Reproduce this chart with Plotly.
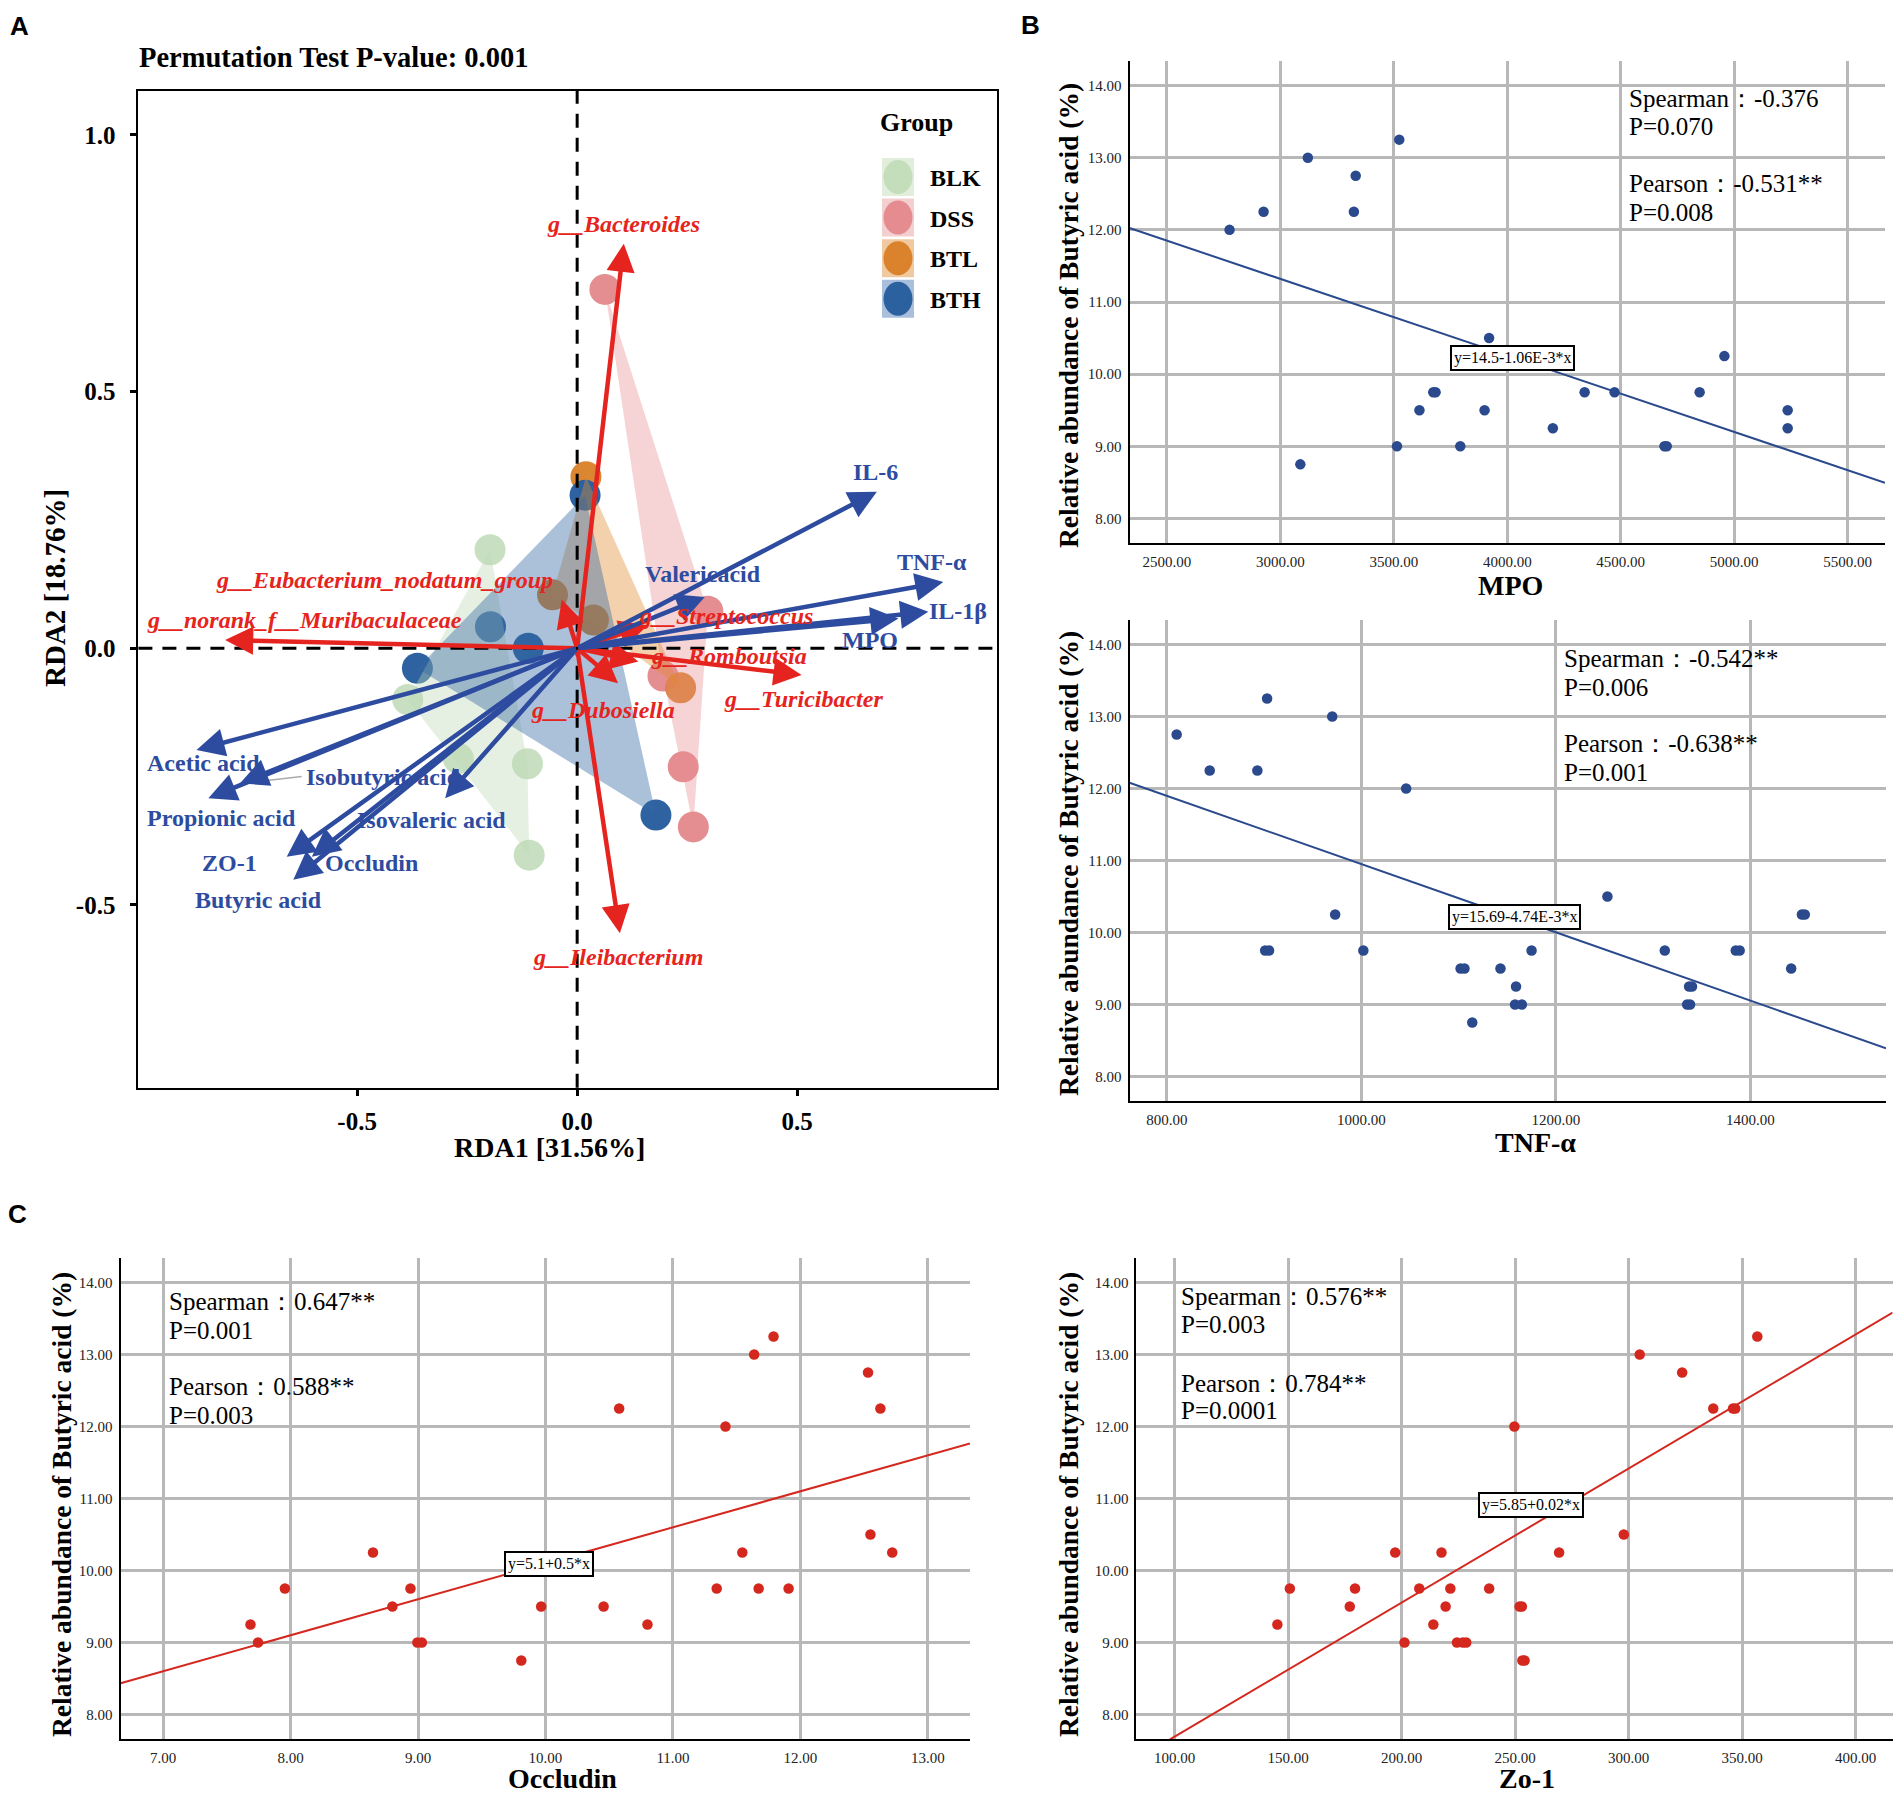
import numpy as np
import plotly.graph_objects as go

OFF = 8                      # browser body margin
W, H = 1902 - 2 * OFF, 1801 - 2 * OFF
SERIF = "Liberation Serif"
SANS = "Liberation Sans"

# ---------------- Panel A : RDA ----------------
groups = ["BLK", "DSS", "BTL", "BTH"]
blk_x = [-0.198, -0.385, -0.270, -0.113, -0.109]
blk_y = [0.192, -0.100, -0.215, -0.225, -0.403]
dss_x = [0.063, 0.297, 0.195, 0.241, 0.264]
dss_y = [0.699, 0.072, -0.054, -0.231, -0.348]
btl_x = [0.020, -0.056, 0.037, 0.235]
btl_y = [0.334, 0.104, 0.055, -0.077]
bth_x = [0.018, -0.197, -0.111, -0.363, 0.179]
bth_y = [0.298, 0.042, 0.000, -0.039, -0.325]

env_names = ["IL-6", "TNF-α", "IL-1β", "MPO", "Valericacid", "Acetic acid",
             "Propionic acid", "Isobutyric acid", "Isovaleric acid", "ZO-1",
             "Occludin", "Butyric acid"]
env_x = [0.681, 0.832, 0.798, 0.730, 0.290, -0.865, -0.838, -0.766, -0.300, -0.660, -0.603, -0.645]
env_y = [0.305, 0.129, 0.071, 0.058, 0.100, -0.198, -0.292, -0.263, -0.292, -0.406, -0.406, -0.451]
env_lab_x = [0.678, 0.806, 0.866, 0.665, 0.287, -0.849, -0.809, -0.439, -0.330, -0.791, -0.467, -0.723]
env_lab_y = [0.344, 0.168, 0.073, 0.016, 0.145, -0.223, -0.330, -0.250, -0.335, -0.419, -0.419, -0.490]

sp_names = ["g__Bacteroides", "g__Eubacterium_nodatum_group", "g__norank_f__Muribaculaceae",
            "g__Streptococcus", "g__Romboutsia", "g__Turicibacter", "g__Dubosiella",
            "g__Ileibacterium"]
sp_x = [0.106, -0.035, -0.800, 0.160, 0.139, 0.510, 0.093, 0.097]
sp_y = [0.788, 0.095, 0.016, 0.045, -0.026, -0.052, -0.068, -0.555]
sp_lab_x = [0.106, -0.437, -0.620, 0.339, 0.346, 0.514, 0.059, 0.093]
sp_lab_y = [0.827, 0.133, 0.055, 0.063, -0.015, -0.098, -0.120, -0.601]

leader_x = [-0.759, -0.626]
leader_y = [-0.263, -0.250]

# ---------------- Panel B / C : correlations ----------------
mpo_x = [2776, 2926, 3121, 3332, 3324, 3524, 3088, 3514, 3613, 3674, 3684, 3793, 3900,
         3920, 4201, 4341, 4473, 4693, 4703, 4848, 4957, 5236, 5236]
mpo_y = [12.0, 12.25, 13.0, 12.75, 12.25, 13.25, 8.75, 9.0, 9.5, 9.75, 9.75, 9.0, 9.5,
         10.5, 9.25, 9.75, 9.75, 9.0, 9.0, 9.75, 10.25, 9.5, 9.25]

tnf_x = [810, 844, 893, 903, 970, 1046, 973, 901, 905, 1002, 1102, 1106, 1143, 1114, 1159,
         1158, 1165, 1175, 1253, 1312, 1337, 1340, 1335, 1338, 1385, 1389, 1442, 1453, 1456]
tnf_y = [12.75, 12.25, 12.25, 13.25, 13.0, 12.0, 10.25, 9.75, 9.75, 9.75, 9.5, 9.5, 9.5, 8.75, 9.25,
         9.0, 9.0, 9.75, 10.5, 9.75, 9.25, 9.25, 9.0, 9.0, 9.75, 9.75, 9.5, 10.25, 10.25]

occ_x = [7.686, 7.745, 7.956, 8.647, 8.799, 8.941, 8.995, 9.030, 9.810, 9.966, 10.456, 10.578,
         10.800, 11.343, 11.412, 11.544, 11.637, 11.672, 11.789, 11.907, 12.530, 12.627, 12.549, 12.720]
occ_y = [9.25, 9.0, 9.75, 10.25, 9.5, 9.75, 9.0, 9.0, 8.75, 9.5, 9.5, 12.25,
         9.25, 9.75, 12.0, 10.25, 13.0, 9.75, 13.25, 9.75, 12.75, 12.25, 10.5, 10.25]

zo_x = [145.3, 150.8, 177.2, 179.5, 197.2, 201.3, 207.8, 214.0, 217.6, 219.4, 221.5, 224.4,
        227.0, 228.5, 238.6, 249.7, 252.0, 253.0, 253.2, 254.2, 269.4, 297.9, 304.9, 323.6,
        337.3, 346.0, 347.0, 356.7]
zo_y = [9.25, 9.75, 9.5, 9.75, 10.25, 9.0, 9.75, 9.25, 10.25, 9.5, 9.75, 9.0,
        9.0, 9.0, 9.75, 12.0, 9.5, 9.5, 8.75, 8.75, 10.25, 10.5, 13.0, 12.75,
        12.25, 12.25, 12.25, 13.25]

fit_intercept = [14.5, 15.69, 5.1, 5.83]
fit_slope = [-1.06e-3, -4.74e-3, 0.5, 0.01862]
fit_labels = ["y=14.5-1.06E-3*x", "y=15.69-4.74E-3*x", "y=5.1+0.5*x", "y=5.85+0.02*x"]
fit_label_x = [4024, 1157, 10.03, 256.8]
fit_label_y = [10.23, 10.22, 10.09, 10.91]

stat_texts = [
    ["Spearman：-0.376", "P=0.070", "Pearson：-0.531**", "P=0.008"],
    ["Spearman：-0.542**", "P=0.006", "Pearson：-0.638**", "P=0.001"],
    ["Spearman：0.647**", "P=0.001", "Pearson：0.588**", "P=0.003"],
    ["Spearman：0.576**", "P=0.003", "Pearson：0.784**", "P=0.0001"],
]
stat_x = [4528, 1206.5, 7.03, 101.8]
stat_y = [[13.82, 13.43, 12.64, 12.24], [13.80, 13.40, 12.62, 12.22],
          [13.74, 13.34, 12.56, 12.15], [13.80, 13.41, 12.60, 12.22]]
x_titles = ["MPO", "TNF-α", "Occludin", "Zo-1"]
y_title = "Relative abundance of Butyric acid (%)"

# ---------------- helpers ----------------
def fx(p):
    return (p - OFF) / W

def fy(p):
    return 1 - (p - OFF) / H

def hull(xs, ys):
    pts = sorted(set(zip(xs, ys)))
    if len(pts) < 3:
        return pts

    def cross(o, a, b):
        return (a[0] - o[0]) * (b[1] - o[1]) - (a[1] - o[1]) * (b[0] - o[0])

    lower, upper = [], []
    for p in pts:
        while len(lower) >= 2 and cross(lower[-2], lower[-1], p) <= 0:
            lower.pop()
        lower.append(p)
    for p in reversed(pts):
        while len(upper) >= 2 and cross(upper[-2], upper[-1], p) <= 0:
            upper.pop()
        upper.append(p)
    h = lower[:-1] + upper[:-1]
    return h + [h[0]]

BLUE = "#2e4c9f"
RED = "#e52420"
SC_BLUE = "#2a4a8d"
SC_RED = "#d4281f"
pt_colors = {"BLK": "rgba(190,218,182,0.85)", "DSS": "rgba(227,136,139,0.95)",
             "BTL": "rgba(217,128,38,0.95)", "BTH": "rgba(42,95,158,0.98)"}
hull_colors = {"BLK": "rgba(190,218,182,0.40)", "DSS": "rgba(232,140,143,0.38)",
               "BTL": "rgba(226,140,50,0.40)", "BTH": "rgba(55,105,165,0.42)"}
key_bg = {"BLK": "#e1eedc", "DSS": "#f4cfd0", "BTL": "#f0c9a0", "BTH": "#a9bfdb"}

fig = go.Figure()
gx = {"BLK": blk_x, "DSS": dss_x, "BTL": btl_x, "BTH": bth_x}
gy = {"BLK": blk_y, "DSS": dss_y, "BTL": btl_y, "BTH": bth_y}

for g in groups:
    fig.add_trace(go.Scatter(x=gx[g], y=gy[g], mode="markers", xaxis="x", yaxis="y",
                             marker=dict(size=31, color=pt_colors[g], line=dict(width=0)),
                             hoverinfo="skip", showlegend=False))
for g in groups:
    h = hull(gx[g], gy[g])
    fig.add_trace(go.Scatter(x=[p[0] for p in h], y=[p[1] for p in h], mode="lines",
                             fill="toself", fillcolor=hull_colors[g], line=dict(width=0),
                             xaxis="x", yaxis="y", hoverinfo="skip", showlegend=False))

fig.add_trace(go.Scatter(x=leader_x, y=leader_y, mode="lines", xaxis="x", yaxis="y",
                         line=dict(color="#aaaaaa", width=1.5), hoverinfo="skip", showlegend=False))

ann = []
shapes = []

# dashed zero lines
shapes.append(dict(type="line", xref="x", yref="y domain", x0=0, x1=0, y0=0, y1=1,
                   line=dict(color="black", width=3, dash="14px,10px"), layer="above"))
shapes.append(dict(type="line", xref="x domain", yref="y", x0=0, x1=1, y0=0, y1=0,
                   line=dict(color="black", width=3, dash="14px,10px"), layer="above"))

for x, y in zip(sp_x, sp_y):
    ann.append(dict(x=x, y=y, ax=0, ay=0, xref="x", yref="y", axref="x", ayref="y", text="",
                    showarrow=True, arrowhead=2, arrowsize=1.25, arrowwidth=4.5, arrowcolor=RED))
for x, y in zip(env_x, env_y):
    ann.append(dict(x=x, y=y, ax=0, ay=0, xref="x", yref="y", axref="x", ayref="y", text="",
                    showarrow=True, arrowhead=2, arrowsize=1.25, arrowwidth=4.5, arrowcolor=BLUE))
for t, x, y in zip(env_names, env_lab_x, env_lab_y):
    ann.append(dict(x=x, y=y, xref="x", yref="y", text=t, showarrow=False,
                    xanchor="center", yanchor="middle",
                    font=dict(family=SERIF, size=24, color=BLUE, weight="bold")))
for t, x, y in zip(sp_names, sp_lab_x, sp_lab_y):
    ann.append(dict(x=x, y=y, xref="x", yref="y", text=t, showarrow=False,
                    xanchor="center", yanchor="middle",
                    font=dict(family=SERIF, size=24, color=RED, weight="bold", style="italic")))

# legend (manual)
ann.append(dict(x=fx(916), y=fy(123), xref="paper", yref="paper", text="Group", showarrow=False,
                xanchor="center", yanchor="middle",
                font=dict(family=SERIF, size=26, color="black", weight="bold")))
for i, g in enumerate(groups):
    cy = 177 + i * 40.6
    shapes.append(dict(type="rect", xref="paper", yref="paper", x0=fx(882), x1=fx(914),
                       y0=fy(cy + 19), y1=fy(cy - 19), fillcolor=key_bg[g], line=dict(width=0)))
    shapes.append(dict(type="circle", xref="paper", yref="paper", x0=fx(883.5), x1=fx(912.5),
                       y0=fy(cy + 17), y1=fy(cy - 17), fillcolor=pt_colors[g], line=dict(width=0)))
    ann.append(dict(x=fx(928), y=fy(cy + 1), xref="paper", yref="paper", text=g, showarrow=False,
                    xanchor="left", yanchor="middle",
                    font=dict(family=SERIF, size=24, color="black", weight="bold")))

# Panel A titles
ann.append(dict(x=fx(137), y=fy(57), xref="paper", yref="paper",
                text="Permutation Test P-value: 0.001", showarrow=False, xanchor="left",
                yanchor="middle", font=dict(family=SERIF, size=28.5, color="black", weight="bold")))
ann.append(dict(x=fx(549), y=fy(1147), xref="paper", yref="paper", text="RDA1 [31.56%]",
                showarrow=False, xanchor="center", yanchor="middle",
                font=dict(family=SERIF, size=28, color="black", weight="bold")))
ann.append(dict(x=fx(55), y=fy(588), xref="paper", yref="paper", text="RDA2 [18.76%]",
                showarrow=False, xanchor="center", yanchor="middle", textangle=-90,
                font=dict(family=SERIF, size=29, color="black", weight="bold")))

# panel letters
for t, x, y in [("A", 19, 26), ("B", 1030, 25), ("C", 17, 1214)]:
    ann.append(dict(x=fx(x), y=fy(y), xref="paper", yref="paper", text=t, showarrow=False,
                    xanchor="center", yanchor="middle",
                    font=dict(family=SANS, size=26, color="black", weight="bold")))

# ---------------- scatter panels ----------------
panels = [
    dict(xs=mpo_x, ys=mpo_y, col=SC_BLUE, xr=[2335, 5665], dtick=500, tick0=2500,
         dom=(1129.5, 1885, 61, 543), xt=(1510, 586), yt=(1068, 316)),
    dict(xs=tnf_x, ys=tnf_y, col=SC_BLUE, xr=[761.5, 1539.5], dtick=200, tick0=800,
         dom=(1129.5, 1886, 620, 1101), xt=(1535, 1142), yt=(1068, 864)),
    dict(xs=occ_x, ys=occ_y, col=SC_RED, xr=[6.667, 13.33], dtick=1, tick0=7,
         dom=(120.6, 970, 1258, 1739), xt=(562, 1778), yt=(61, 1505)),
    dict(xs=zo_x, ys=zo_y, col=SC_RED, xr=[83.2, 416.3], dtick=50, tick0=100,
         dom=(1136.4, 1892.6, 1258, 1739), xt=(1527, 1778), yt=(1068, 1505)),
]

layout_axes = {}
for i, p in enumerate(panels):
    k = i + 2
    xa, ya = f"x{k}", f"y{k}"
    fig.add_trace(go.Scatter(x=p["xs"], y=p["ys"], mode="markers", xaxis=xa, yaxis=ya,
                             marker=dict(size=10.5, color=p["col"]), hoverinfo="skip",
                             showlegend=False))
    xl = np.array(p["xr"], dtype=float)
    yl = fit_intercept[i] + fit_slope[i] * xl
    fig.add_trace(go.Scatter(x=xl, y=yl, mode="lines", xaxis=xa, yaxis=ya,
                             line=dict(color=p["col"], width=2), hoverinfo="skip",
                             showlegend=False))
    l, r, t, b = p["dom"]
    layout_axes[f"xaxis{k}"] = dict(
        domain=[fx(l), fx(r)], range=p["xr"], anchor=ya, showline=True, linecolor="black",
        linewidth=2, ticks="", tick0=p["tick0"], dtick=p["dtick"], tickformat=".2f",
        tickfont=dict(family=SERIF, size=15, color="#222222"), showgrid=True,
        gridcolor="#b8b8b8", gridwidth=2.5, zeroline=False, ticklabelstandoff=4)
    layout_axes[f"yaxis{k}"] = dict(
        domain=[fy(b), fy(t)], range=[7.66, 14.34], anchor=xa, showline=True,
        linecolor="black", linewidth=2, ticks="", tick0=8, dtick=1, tickformat=".2f",
        tickfont=dict(family=SERIF, size=15, color="#222222"), showgrid=True,
        gridcolor="#b8b8b8", gridwidth=2.5, zeroline=False, ticklabelstandoff=3)
    ann.append(dict(x=fit_label_x[i], y=fit_label_y[i], xref=xa, yref=ya, text=fit_labels[i],
                    showarrow=False, xanchor="center", yanchor="middle", bgcolor="white",
                    bordercolor="black", borderwidth=2, borderpad=2,
                    font=dict(family=SERIF, size=16, color="black")))
    for txt, yy in zip(stat_texts[i], stat_y[i]):
        ann.append(dict(x=stat_x[i], y=yy, xref=xa, yref=ya, text=txt, showarrow=False,
                        xanchor="left", yanchor="middle",
                        font=dict(family=SERIF, size=25, color="black")))
    ann.append(dict(x=fx(p["xt"][0]), y=fy(p["xt"][1]), xref="paper", yref="paper",
                    text=x_titles[i], showarrow=False, xanchor="center", yanchor="middle",
                    font=dict(family=SERIF, size=28, color="black", weight="bold")))
    ann.append(dict(x=fx(p["yt"][0]), y=fy(p["yt"][1]), xref="paper", yref="paper",
                    text=y_title, showarrow=False, xanchor="center", yanchor="middle",
                    textangle=-90,
                    font=dict(family=SERIF, size=27.5, color="black", weight="bold")))

tickA = dict(family=SERIF, size=25, color="black", weight="bold")
fig.update_layout(
    width=W, height=H, margin=dict(l=0, r=0, t=0, b=0),
    paper_bgcolor="white", plot_bgcolor="white", showlegend=False,
    xaxis=dict(domain=[fx(138.4), fx(997)], range=[-0.997, 0.954], anchor="y",
               showline=True, mirror=True, linecolor="black", linewidth=2,
               ticks="outside", ticklen=6, tickwidth=3, tickcolor="black",
               tickvals=[-0.5, 0.0, 0.5], ticktext=["-0.5", "0.0", "0.5"], tickfont=tickA,
               showgrid=False, zeroline=False, ticklabelstandoff=4),
    yaxis=dict(domain=[fy(1087.7), fy(90.7)], range=[-0.856, 1.086], anchor="x",
               showline=True, mirror=True, linecolor="black", linewidth=2,
               ticks="outside", ticklen=6, tickwidth=3, tickcolor="black",
               tickvals=[-0.5, 0.0, 0.5, 1.0], ticktext=["-0.5", "0.0", "0.5", "1.0"],
               tickfont=tickA, showgrid=False, zeroline=False, ticklabelstandoff=10),
    annotations=ann, shapes=shapes,
    **layout_axes,
)

fig.write_html("out.html")
